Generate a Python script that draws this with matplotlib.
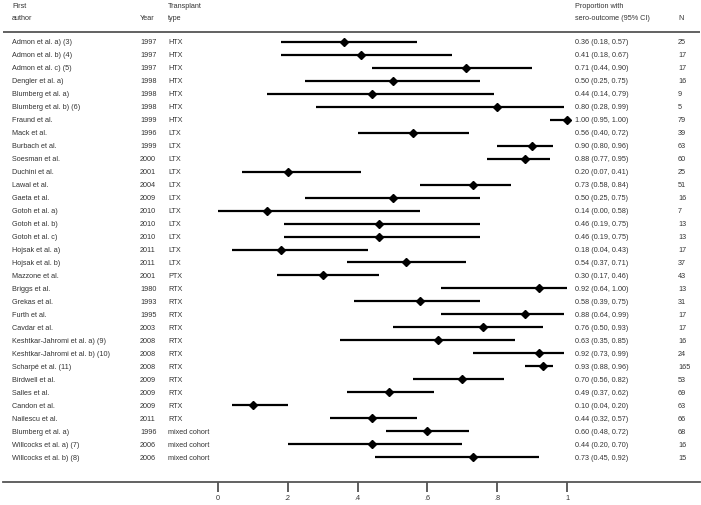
import numpy as np
import matplotlib.pyplot as plt
import matplotlib.transforms as mtransforms

authors = ['Admon et al. a) (3)', 'Admon et al. b) (4)', 'Admon et al. c) (5)', 'Dengler et al. a)',
           'Blumberg et al. a)', 'Blumberg et al. b) (6)', 'Fraund et al.', 'Mack et al.',
           'Burbach et al.', 'Soesman et al.', 'Duchini et al.', 'Lawal et al.', 'Gaeta et al.',
           'Gotoh et al. a)', 'Gotoh et al. b)', 'Gotoh et al. c)', 'Hojsak et al. a)',
           'Hojsak et al. b)', 'Mazzone et al.', 'Briggs et al.', 'Grekas et al.', 'Furth et al.',
           'Cavdar et al.', 'Keshtkar-Jahromi et al. a) (9)', 'Keshtkar-Jahromi et al. b) (10)',
           'Scharpé et al. (11)', 'Birdwell et al.', 'Salles et al.', 'Candon et al.',
           'Nailescu et al.', 'Blumberg et al. a)', 'Willcocks et al. a) (7)', 'Willcocks et al. b) (8)']
years = [1997, 1997, 1997, 1998, 1998, 1998, 1999, 1996, 1999, 2000, 2001, 2004, 2009, 2010, 2010,
         2010, 2011, 2011, 2001, 1980, 1993, 1995, 2003, 2008, 2008, 2008, 2009, 2009, 2009, 2011,
         1996, 2006, 2006]
types = ['HTX'] * 7 + ['LTX'] * 11 + ['PTX'] + ['RTX'] * 11 + ['mixed cohort'] * 3
prop = [0.36, 0.41, 0.71, 0.50, 0.44, 0.80, 1.00, 0.56, 0.90, 0.88, 0.20, 0.73, 0.50, 0.14, 0.46,
        0.46, 0.18, 0.54, 0.30, 0.92, 0.58, 0.88, 0.76, 0.63, 0.92, 0.93, 0.70, 0.49, 0.10, 0.44,
        0.60, 0.44, 0.73]
lo = [0.18, 0.18, 0.44, 0.25, 0.14, 0.28, 0.95, 0.40, 0.80, 0.77, 0.07, 0.58, 0.25, 0.00, 0.19,
      0.19, 0.04, 0.37, 0.17, 0.64, 0.39, 0.64, 0.50, 0.35, 0.73, 0.88, 0.56, 0.37, 0.04, 0.32,
      0.48, 0.20, 0.45]
hi = [0.57, 0.67, 0.90, 0.75, 0.79, 0.99, 1.00, 0.72, 0.96, 0.95, 0.41, 0.84, 0.75, 0.58, 0.75,
      0.75, 0.43, 0.71, 0.46, 1.00, 0.75, 0.99, 0.93, 0.85, 0.99, 0.96, 0.82, 0.62, 0.20, 0.57,
      0.72, 0.70, 0.92]
n = [25, 17, 17, 16, 9, 5, 79, 39, 63, 60, 25, 51, 16, 7, 13, 13, 17, 37, 43, 13, 31, 17, 17, 16,
     24, 165, 53, 69, 63, 66, 68, 16, 15]
xticks = [0, 0.2, 0.4, 0.6, 0.8, 1.0]
xticklabels = ['0', '.2', '.4', '.6', '.8', '1']

plt.rcParams['font.family'] = ['Liberation Sans', 'DejaVu Sans']
W, H = 701, 506
fig = plt.figure(figsize=(W / 100, H / 100), dpi=100)
ax = fig.add_axes([0.004, 0, 0.995, 1])

# pixel calibration: x=0 at 218 px, x=1 at 567 px; row 0 at 43 px, step 12.97 px
x0, x1 = 218, 567
unit = x1 - x0
left_px, right_px = 0.004 * W, 0.999 * W
ax.set_xlim((left_px - x0) / unit, (right_px - x0) / unit)
r0, step = 43, 12.97
ax.set_ylim((H - r0) / step, -r0 / step)

rows = np.arange(len(authors))
ax.hlines(rows, lo, hi, color='black', lw=1.6)
ax.plot(prop, rows, 'D', color='black', ms=4.4)

for s in ['top', 'left', 'right']:
    ax.spines[s].set_visible(False)
ax.spines['bottom'].set_position(('data', (483 - r0) / step))
ax.spines['bottom'].set_color('#555555')
ax.spines['bottom'].set_linewidth(1.3)
ax.set_yticks([])
ax.set_xticks(xticks)
ax.set_xticklabels(xticklabels, fontsize=5.2, color='#333333')
ax.tick_params(axis='x', direction='out', length=7, width=1.1, color='#333333', pad=2)

# header rule
ax.axhline((33 - r0) / step, color='#555555', lw=1.3)

tr = mtransforms.blended_transform_factory(fig.transFigure, ax.transData)
fs = 5.2
tc = '#333333'
def col(px):
    return px / W

for i in rows:
    ax.text(col(12), i, authors[i], transform=tr, fontsize=fs, color=tc, va='center')
    ax.text(col(140), i, str(years[i]), transform=tr, fontsize=fs, color=tc, va='center')
    ax.text(col(168), i, types[i], transform=tr, fontsize=fs, color=tc, va='center')
    ax.text(col(575), i, f'{prop[i]:.2f} ({lo[i]:.2f}, {hi[i]:.2f})', transform=tr,
            fontsize=fs, color=tc, va='center')
    ax.text(col(678), i, str(n[i]), transform=tr, fontsize=fs, color=tc, va='center')

h1, h2 = 1 - 6 / H, 1 - 19 / H
for x, y, s in [(12, h1, 'First'), (12, h2, 'author'), (140, h2, 'Year'),
                (168, h1, 'Transplant'), (168, h2, 'type'),
                (575, h1, 'Proportion with'), (575, h2, 'sero-outcome (95% CI)'), (678, h2, 'N')]:
    fig.text(col(x), y, s, fontsize=fs, color=tc, va='center')

plt.savefig('out.png', dpi=100)
